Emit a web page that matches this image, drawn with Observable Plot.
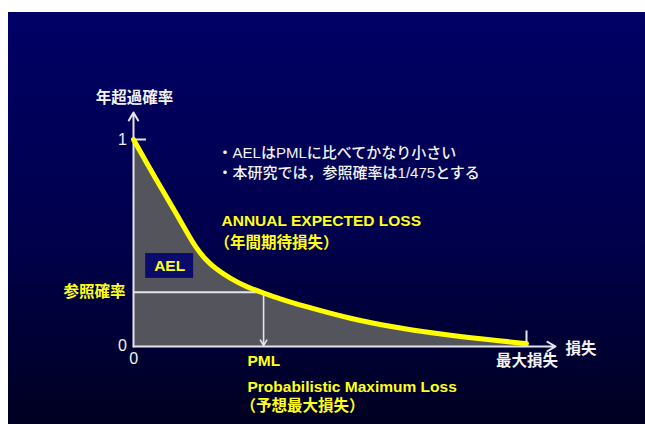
<!DOCTYPE html>
<html><head><meta charset="utf-8">
<script src="https://cdn.jsdelivr.net/npm/d3@7"></script>
<script src="https://cdn.jsdelivr.net/npm/@observablehq/plot@0.6"></script>
<style>
html,body{margin:0;padding:0;background:#fff;}
#wrap{position:relative;width:645px;height:424px;overflow:hidden;background:#fff;}
#bg{position:absolute;left:8px;top:12px;right:0;bottom:0;background:linear-gradient(#000066 0%,#00004c 55%,#000022 100%);}
#chart{position:absolute;left:0;top:0;}
</style></head>
<body><div id="wrap"><div id="bg"></div><div id="chart"></div></div>
<script>
// exceedance curve (loss normalised: 0 .. max loss = 1; probability 0 .. 1)
const lossValues = [0, 0.028, 0.056, 0.084, 0.112, 0.137, 0.160, 0.183, 0.206, 0.247, 0.290, 0.331, 0.374, 0.425, 0.552, 0.679, 0.807, 0.934, 1.0];
const probValues = [1.0, 0.906, 0.813, 0.722, 0.632, 0.548, 0.474, 0.421, 0.380, 0.327, 0.286, 0.258, 0.229, 0.200, 0.133, 0.087, 0.053, 0.027, 0.014];
const refProb = 0.262;   // 参照確率
const pmlLoss = 0.331;   // PML
const maxLoss = 1;
const yAxisTop = 1.131;
const xAxisEnd = 1.074;

// annotation labels
const yellowLabels = [
  {x: 0.224, y: 0.604, t: "ANNUAL EXPECTED LOSS", a: "start"},
  {x: 0.206, y: 0.498, t: "（年間期待損失）", a: "start"},
  {x: 0.290, y: -0.068, t: "PML", a: "start"},
  {x: 0.290, y: -0.198, t: "Probabilistic Maximum Loss", a: "start"},
  {x: 0.272, y: -0.290, t: "（予想最大損失）", a: "start"},
  {x: -0.020, y: 0.261, t: "参照確率", a: "end"},
  {x: 0.092, y: 0.389, t: "AEL", a: "middle"}
];
const whiteLabels = [
  {x: 0.0025, y: 1.198, t: "年超過確率", a: "middle"},
  {x: 1.001, y: -0.068, t: "最大損失", a: "middle"},
  {x: 1.099, y: -0.01, t: "損失", a: "start"}
];
const bulletLabels = [
  {x: 0.214, y: 0.932, t: "・AELはPMLに比べてかなり小さい"},
  {x: 0.214, y: 0.836, t: "・本研究では，参照確率は1/475とする"}
];
const tickLabels = [
  {x: -0.028, y: 1.0, t: "1"},
  {x: -0.028, y: 0.005, t: "0"},
  {x: 0.0008, y: -0.061, t: "0"}
];
const aelBox = [{x1: 0.031, x2: 0.153, y1: 0.329, y2: 0.449}];

const curve = lossValues.map((x, i) => ({x, y: probValues[i]}));
const font = '"Liberation Sans", "Noto Sans CJK JP", sans-serif';
const axisCol = "#e4e4ec";
const anchors = ["start", "middle", "end"];

function labelMarks(rows, opts) {
  return anchors.map(a => Plot.text(rows.filter(d => (d.a || "start") === a),
    {x: "x", y: "y", text: "t", textAnchor: a, fontFamily: font, ...opts}));
}

const chart = Plot.plot({
  width: 645, height: 424,
  marginLeft: 133, marginRight: 119, marginTop: 139, marginBottom: 78,
  x: {domain: [0, 1], axis: null},
  y: {domain: [0, 1], axis: null},
  style: {background: "transparent", overflow: "visible"},
  marks: [
    Plot.areaY(curve, {x: "x", y: "y", curve: "basis", fill: "#54545c"}),
    Plot.rect(aelBox, {x1: "x1", x2: "x2", y1: "y1", y2: "y2", fill: "#0b0b6c"}),
    Plot.ruleY([refProb], {x1: 0, x2: pmlLoss, stroke: axisCol, strokeWidth: 2}),
    Plot.arrow([{x1: pmlLoss, y1: refProb, x2: pmlLoss, y2: 0.004}], {x1: "x1", y1: "y1", x2: "x2", y2: "y2", stroke: axisCol, strokeWidth: 1.6, headLength: 6}),
    Plot.arrow([{x1: 0, y1: 0, x2: 0, y2: yAxisTop}, {x1: 0, y1: 0, x2: xAxisEnd, y2: 0}], {x1: "x1", y1: "y1", x2: "x2", y2: "y2", stroke: axisCol, strokeWidth: 2, headLength: 7}),
    Plot.ruleY([1], {x1: 0, x2: 0.033, stroke: axisCol, strokeWidth: 2}),
    Plot.ruleX([maxLoss], {y1: 0, y2: 0.075, stroke: axisCol, strokeWidth: 2}),
    Plot.line(curve, {x: "x", y: "y", curve: "basis", stroke: "#ffff00", strokeWidth: 5}),
    ...labelMarks(yellowLabels, {fill: "#ffff1a", fontSize: 15.5, fontWeight: "bold"}),
    ...labelMarks(whiteLabels, {fill: "#f2f2f2", fontSize: 15.5, fontWeight: "bold"}),
    ...labelMarks(bulletLabels, {fill: "#f4f4f4", fontSize: 15, fontWeight: 500}),
    Plot.text(tickLabels, {x: "x", y: "y", text: "t", textAnchor: "middle", fill: "#f2f2f2", fontSize: 16, fontFamily: font})
  ]
});
document.getElementById("chart").appendChild(chart);
</script>
</body></html>
